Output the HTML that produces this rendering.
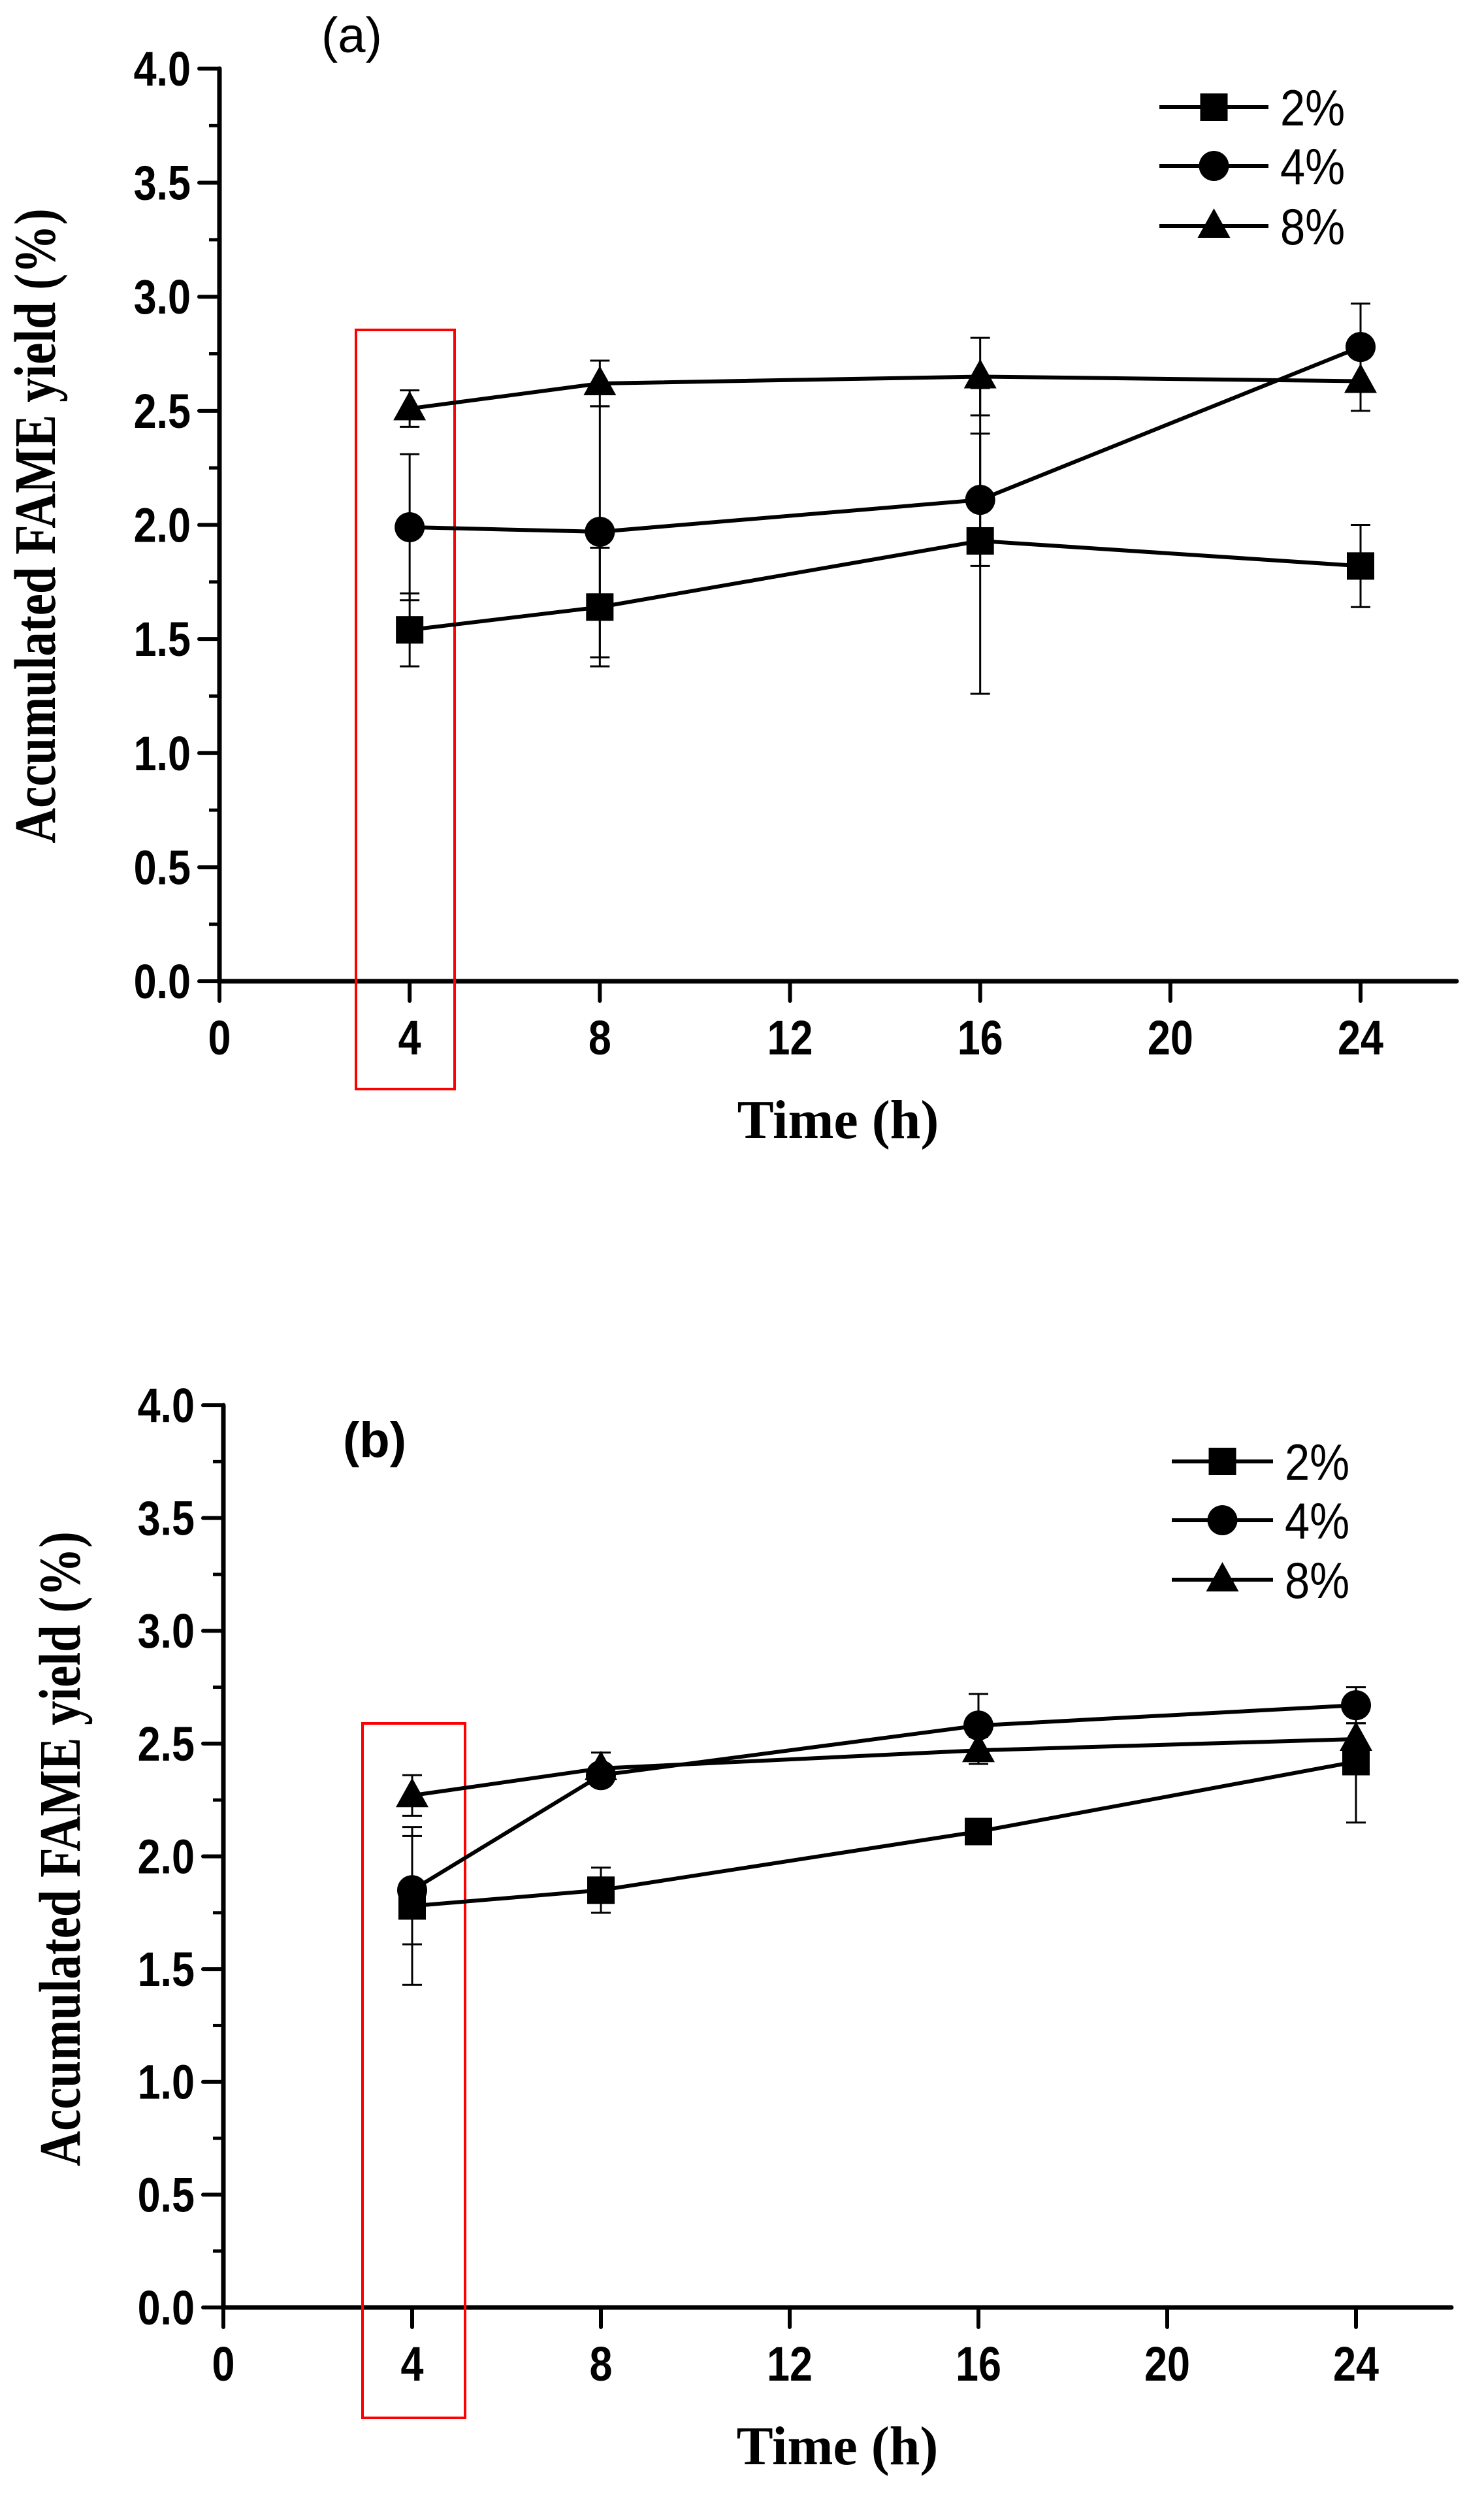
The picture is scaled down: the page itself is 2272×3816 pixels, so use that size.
<!DOCTYPE html>
<html><head><meta charset="utf-8"><style>
html,body{margin:0;padding:0;background:#fff}
svg{display:block}
</style></head><body>
<svg id="fig" xmlns="http://www.w3.org/2000/svg" width="2272" height="3816" viewBox="0 0 2272 3816"></svg>
<script>
const times = [4, 8, 16, 24];
const seriesNames = ['2%', '4%', '8%'];
const xTicks = [0, 4, 8, 12, 16, 20, 24];
const yTicks = [0, 0.5, 1.0, 1.5, 2.0, 2.5, 3.0, 3.5, 4.0];
const aVals2 = [1.54, 1.64, 1.93, 1.82];
const aErr2 = [0.16, 0.26, 0.67, 0.18];
const aVals4 = [1.99, 1.97, 2.11, 2.78];
const aErr4 = [0.32, 0.55, 0.29, 0.19];
const aVals8 = [2.51, 2.62, 2.65, 2.63];
const aErr8 = [0.08, 0.10, 0.17, 0.13];
const bVals2 = [1.78, 1.85, 2.11, 2.42];
const bErr2 = [0.35, 0.10, 0.02, 0.27];
const bVals4 = [1.85, 2.36, 2.58, 2.67];
const bErr4 = [0.24, 0.03, 0.14, 0.08];
const bVals8 = [2.27, 2.39, 2.47, 2.52];
const bErr8 = [0.09, 0.07, 0.06, 0.07];

const NS = 'http://www.w3.org/2000/svg';
const svg = document.getElementById('fig');
function mk(tag, attrs, parent) {
  const e = document.createElementNS(NS, tag);
  for (const k in attrs) e.setAttribute(k, attrs[k]);
  (parent || svg).appendChild(e);
  return e;
}

function panel(cfg) {
  const g = mk('g', {});
  
  
  const X = t => cfg.x0 + (t / 24) * (cfg.x24 - cfg.x0);
  const Y = v => cfg.y0 - (v / 4) * (cfg.y0 - cfg.y4);
  const ax = mk('path', {d: `M${cfg.x0} ${cfg.y4} V${cfg.y0} H${cfg.xEnd}`, fill: 'none', stroke: '#000', 'stroke-width': 7, 'stroke-linecap': 'round'}, g);
  
  
  for (let i = 0; i < yTicks.length; i++) {
    const v = yTicks[i];
    mk('line', {x1: cfg.x0 - 31, x2: cfg.x0, y1: Y(v), y2: Y(v), stroke: '#000', 'stroke-width': 6, 'stroke-linecap': 'round'}, g);
    if (i < yTicks.length - 1) {
      const m = (v + yTicks[i + 1]) / 2;
      mk('line', {x1: cfg.x0 - 16, x2: cfg.x0, y1: Y(m), y2: Y(m), stroke: '#000', 'stroke-width': 5}, g);
    }
    const t = mk('text', {x: cfg.x0 - 44, y: Y(v) + 26, 'text-anchor': 'end', 'font-family': 'Liberation Sans, sans-serif', 'font-weight': 'bold', 'font-size': 74, transform: `translate(${cfg.x0 - 44} 0) scale(0.85 1) translate(${-(cfg.x0 - 44)} 0)`}, g);
    t.textContent = v.toFixed(1);
    
    
  }
  for (const tv of xTicks) {
    mk('line', {x1: X(tv), x2: X(tv), y1: cfg.y0, y2: cfg.y0 + 30, stroke: '#000', 'stroke-width': 6, 'stroke-linecap': 'round'}, g);
    const t = mk('text', {x: X(tv), y: cfg.y0 + 112, 'text-anchor': 'middle', 'font-family': 'Liberation Sans, sans-serif', 'font-weight': 'bold', 'font-size': 74, transform: `translate(${X(tv)} 0) scale(0.85 1) translate(${-X(tv)} 0)`}, g);
    t.textContent = tv;
    
    
  }
  const xt = mk('text', {x: (cfg.x0 + cfg.xEnd) / 2, y: cfg.y0 + 240, 'text-anchor': 'middle', 'font-family': 'Liberation Serif, serif', 'font-weight': 'bold', 'font-size': 84}, g);
  xt.textContent = 'Time (h)';
  
  
  const yt = mk('text', {x: 0, y: 0, 'text-anchor': 'middle', 'font-family': 'Liberation Serif, serif', 'font-weight': 'bold', 'font-size': 90, transform: `translate(${cfg.ytX} ${cfg.ytY}) rotate(-90) scale(0.83 1)`}, g);
  yt.textContent = 'Accumulated FAME yield (%)';
  
  
  const pl = mk('text', {x: cfg.lblX, y: cfg.lblY, 'font-family': 'Liberation Sans, sans-serif', 'font-weight': cfg.lblBold ? 'bold' : 'normal', 'font-size': 76}, g);
  pl.textContent = cfg.label;
  
  
  const rb = mk('rect', {x: cfg.box[0], y: cfg.box[1], width: cfg.box[2] - cfg.box[0], height: cfg.box[3] - cfg.box[1], fill: 'none', stroke: '#f00', 'stroke-width': 4}, g);
  
  

  const marker = (type, cx, cy, parent) => {
    let e;
    if (type === 0) e = mk('rect', {x: cx - 21, y: cy - 21, width: 42, height: 42, fill: '#000'}, parent);
    else if (type === 1) e = mk('circle', {cx: cx, cy: cy, r: 23, fill: '#000'}, parent);
    else e = mk('polygon', {points: `${cx},${cy - 27} ${cx + 25},${cy + 18} ${cx - 25},${cy + 18}`, fill: '#000'}, parent);
    return e;
  };

  const series = [[cfg.v2, cfg.e2], [cfg.v4, cfg.e4], [cfg.v8, cfg.e8]];
  series.forEach((s, si) => {
    const sg = mk('g', {}, g);
    
    
    times.forEach((t, i) => {
      const x = X(t), hi = Y(s[0][i] + s[1][i]), lo = Y(s[0][i] - s[1][i]);
      const eb = mk('path', {d: `M${x} ${hi} V${lo} M${x - 15} ${hi} H${x + 15} M${x - 15} ${lo} H${x + 15}`, stroke: '#000', 'stroke-width': 3, fill: 'none'}, sg);
      
      
    });
    const pts = times.map((t, i) => `${X(t)},${Y(s[0][i])}`).join(' ');
    const ln = mk('polyline', {points: pts, fill: 'none', stroke: '#000', 'stroke-width': 6}, sg);
    
    
    times.forEach((t, i) => {
      const m = marker(si, X(t), Y(s[0][i]), sg);
      
      
    });
  });
  const lg = mk('g', {}, g);
  
  
  seriesNames.forEach((n, i) => {
    const y = cfg.legY[i];
    const le = mk('g', {}, lg);
    
    
    mk('line', {x1: cfg.legX1, x2: cfg.legX2, y1: y, y2: y, stroke: '#000', 'stroke-width': 6}, le);
    marker(i, (cfg.legX1 + cfg.legX2) / 2, y, le);
    const tx = mk('text', {x: cfg.legX2 + 18, y: y + 28, 'font-family': 'Liberation Sans, sans-serif', 'font-size': 78, transform: `translate(${cfg.legX2 + 18} 0) scale(0.88 1) translate(${-(cfg.legX2 + 18)} 0)`}, le);
    tx.textContent = n;
  });
}

panel({name: 'chart-a', x0: 336, x24: 2083, xEnd: 2230, y0: 1502, y4: 105,
  ytX: 84, ytY: 805, lblX: 492, lblY: 80, label: '(a)', lblBold: false,
  box: [545, 505, 696, 1667],
  v2: aVals2, e2: aErr2, v4: aVals4, e4: aErr4, v8: aVals8, e8: aErr8,
  legX1: 1775, legX2: 1942, legY: [164, 254, 346]});
panel({name: 'chart-b', x0: 342, x24: 2076, xEnd: 2222, y0: 3532, y4: 2151,
  ytX: 122, ytY: 2830, lblX: 525, lblY: 2230, label: '(b)', lblBold: true,
  box: [555, 2638, 712, 3701],
  v2: bVals2, e2: bErr2, v4: bVals4, e4: bErr4, v8: bVals8, e8: bErr8,
  legX1: 1794, legX2: 1949, legY: [2237, 2327, 2418]});
</script>
</body></html>
